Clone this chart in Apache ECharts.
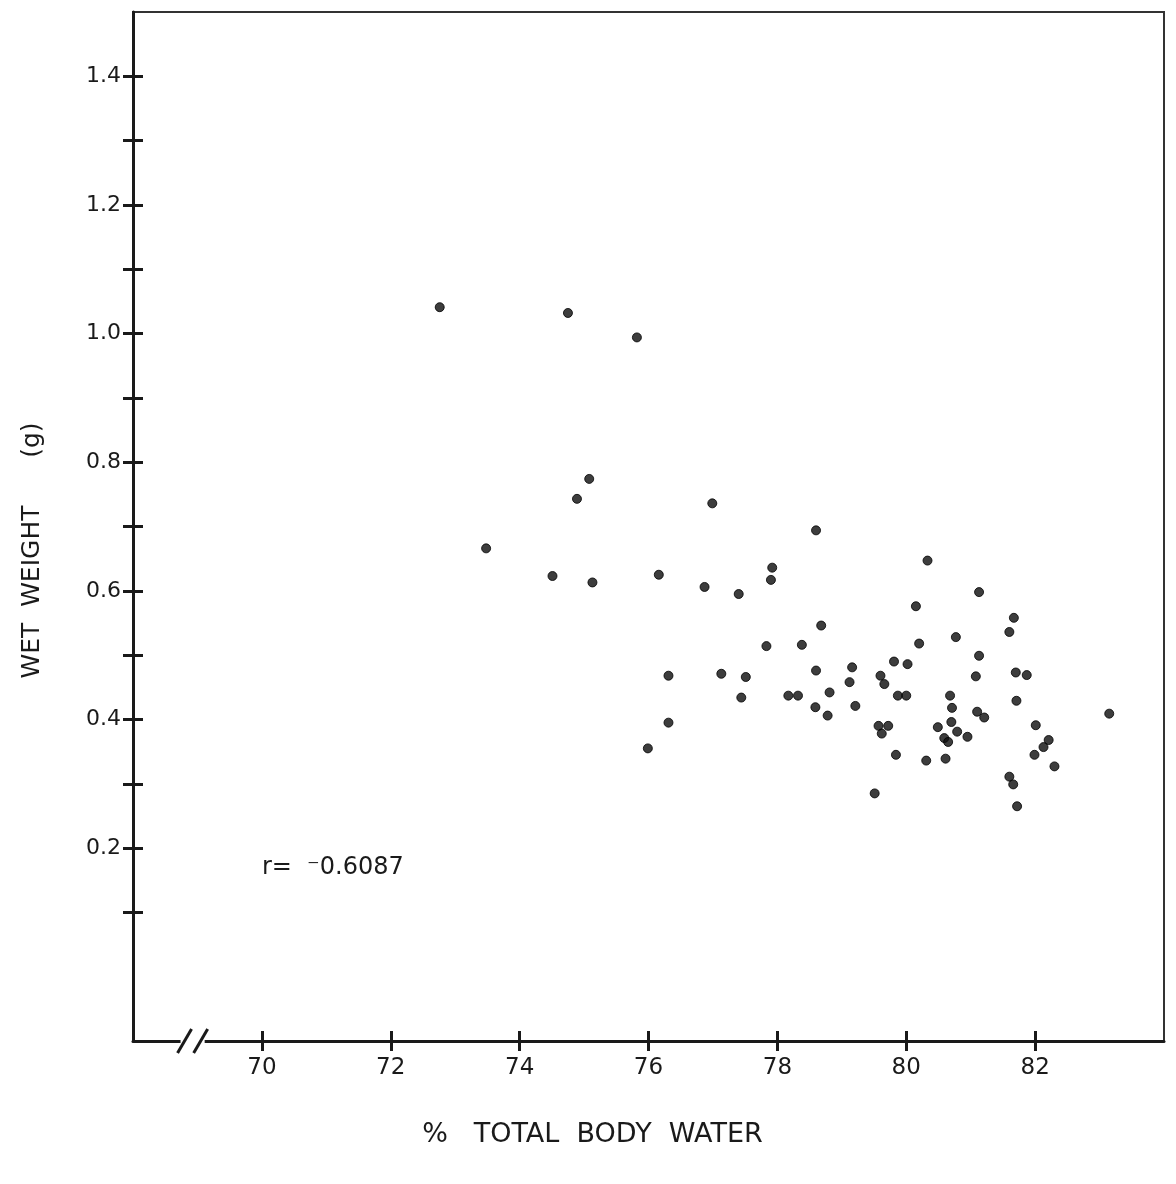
<html>
<head>
<meta charset="UTF-8" />
<script src="https://cdn.jsdelivr.net/npm/echarts@6.0.0/dist/echarts.min.js"></script>
</head>
<style type="text/css">
    *{ margin: 0; padding: 0; }
    body{ background: #fff; }
    #chart{ width: 1176px; height: 1184px; }
</style>
<body>
<div id="chart"></div>
<script type="text/javascript">
    // % total body water (x) vs wet weight in g (y)
    var waterPct = [
        72.76, 74.75, 75.82, 73.48, 74.89, 75.08, 74.51, 75.13, 76.99, 76.16,
        76.87, 77.40, 76.31, 76.31, 75.99, 77.13, 77.51, 77.44, 77.92, 77.90,
        77.83, 78.60, 78.68, 78.38, 78.60, 78.17, 78.32, 78.59, 78.81, 78.78,
        79.16, 79.12, 79.21, 79.51,
        80.33, 81.13, 80.15, 80.20, 80.77, 81.13, 79.81, 80.02, 79.60, 79.66,
        81.08, 79.87, 80.00, 80.68, 80.71, 81.10, 81.21, 80.70, 79.57, 79.72,
        79.62, 80.49, 80.79, 80.59, 80.65, 80.95, 79.84, 80.31, 80.61,
        81.67, 81.60, 81.70, 81.87, 81.71, 83.15, 82.01, 82.21, 82.13, 81.99,
        82.30, 81.60, 81.66, 81.72
    ];
    var wetWeight = [
        1.041, 1.032, 0.994, 0.666, 0.743, 0.774, 0.623, 0.613, 0.736, 0.625,
        0.606, 0.595, 0.468, 0.395, 0.355, 0.471, 0.466, 0.434, 0.636, 0.617,
        0.514, 0.694, 0.546, 0.516, 0.476, 0.437, 0.437, 0.419, 0.442, 0.406,
        0.481, 0.458, 0.421, 0.285,
        0.647, 0.598, 0.576, 0.518, 0.528, 0.499, 0.490, 0.486, 0.468, 0.455,
        0.467, 0.437, 0.437, 0.437, 0.418, 0.412, 0.403, 0.396, 0.390, 0.390,
        0.378, 0.388, 0.381, 0.371, 0.365, 0.373, 0.345, 0.336, 0.339,
        0.558, 0.536, 0.473, 0.469, 0.429, 0.409, 0.391, 0.368, 0.357, 0.345,
        0.327, 0.311, 0.299, 0.265
    ];
    var xTicks = [70, 72, 74, 76, 78, 80, 82];
    var yTicks = [0.1, 0.2, 0.3, 0.4, 0.5, 0.6, 0.7, 0.8, 0.9, 1.0, 1.1, 1.2, 1.3, 1.4];
    var yLabels = [0.2, 0.4, 0.6, 0.8, 1.0, 1.2, 1.4];
    var rText = 'r=  \u207B0.6087';

    var points = [];
    for (var i = 0; i < waterPct.length; i++) {
        points.push([waterPct[i], wetWeight[i]]);
    }

    var font = 'DejaVu Sans';
    var ink = '#1a1a1a';

    var myChart = echarts.init(document.getElementById('chart'));
    var option = {
        backgroundColor: '#fff',
        animation: false,
        grid: {
            left: 133, right: 12, top: 12, bottom: 143,
            show: true, borderColor: '#333', borderWidth: 2
        },
        xAxis: [{
            type: 'value', min: 68, max: 84, interval: 2,
            position: 'bottom',
            name: '%   TOTAL  BODY  WATER',
            nameLocation: 'middle', nameGap: 80,
            nameTextStyle: { fontFamily: font, fontSize: 27, color: ink,
                padding: [0, 112, 0, 0] },
            axisLine: { show: true, onZero: false, lineStyle: { color: ink, width: 3 } },
            axisTick: { show: true, inside: false, length: 10, customValues: xTicks,
                lineStyle: { color: ink, width: 3 } },
            axisLabel: { customValues: xTicks, margin: 16, fontFamily: font,
                fontSize: 23, color: ink },
            splitLine: { show: false }
        }, {
            type: 'value', min: 68, max: 84, interval: 2,
            position: 'bottom',
            axisLine: { show: false, onZero: false },
            axisTick: { show: true, inside: true, length: 10, customValues: xTicks,
                lineStyle: { color: ink, width: 3 } },
            axisLabel: { show: false },
            splitLine: { show: false }
        }],
        yAxis: [{
            type: 'value', min: -0.1, max: 1.5, interval: 0.1,
            position: 'left',
            name: 'WET  WEIGHT      (g)',
            nameLocation: 'middle', nameGap: 88, nameRotate: 90,
            nameTextStyle: { fontFamily: font, fontSize: 25, color: ink,
                padding: [0, 48, 0, 0] },
            axisLine: { show: true, onZero: false, lineStyle: { color: ink, width: 3 } },
            axisTick: { show: true, inside: false, length: 10, customValues: yTicks,
                lineStyle: { color: ink, width: 3 } },
            axisLabel: { customValues: yLabels, margin: 12, fontFamily: font,
                fontSize: 22, color: ink,
                formatter: function (v) { return v.toFixed(1); } },
            splitLine: { show: false }
        }, {
            type: 'value', min: -0.1, max: 1.5, interval: 0.1,
            position: 'left',
            axisLine: { show: false, onZero: false },
            axisTick: { show: true, inside: true, length: 10, customValues: yTicks,
                lineStyle: { color: ink, width: 3 } },
            axisLabel: { show: false },
            splitLine: { show: false }
        }],
        series: [{
            type: 'scatter',
            xAxisIndex: 0, yAxisIndex: 0,
            symbol: 'circle', symbolSize: 9,
            itemStyle: { color: '#0d0d0d', borderColor: '#000', borderWidth: 1 },
            data: points
        }]
    };
    myChart.setOption(option);

    // axis break mark "//" and the r value, placed from data coordinates
    var b1 = myChart.convertToPixel({ gridIndex: 0 }, [68.8, -0.1]);
    var b2 = myChart.convertToPixel({ gridIndex: 0 }, [69.05, -0.1]);
    var rPos = myChart.convertToPixel({ gridIndex: 0 }, [70.0, 0.17]);
    myChart.setOption({
        graphic: [
            { type: 'rect', shape: { x: b1[0] - 4, y: b1[1] - 3, width: b2[0] - b1[0] + 8, height: 6 },
              style: { fill: '#fff' }, z: 100 },
            { type: 'line', shape: { x1: b1[0] - 7, y1: b1[1] + 12, x2: b1[0] + 7, y2: b1[1] - 12 },
              style: { stroke: ink, lineWidth: 3 }, z: 101 },
            { type: 'line', shape: { x1: b2[0] - 7, y1: b2[1] + 12, x2: b2[0] + 7, y2: b2[1] - 12 },
              style: { stroke: ink, lineWidth: 3 }, z: 101 },
            { type: 'text', x: rPos[0], y: rPos[1],
              style: { text: rText, fontFamily: font, fontSize: 24, fill: ink,
                  textAlign: 'left', textVerticalAlign: 'middle' } }
        ]
    });
</script>
</body>
</html>
